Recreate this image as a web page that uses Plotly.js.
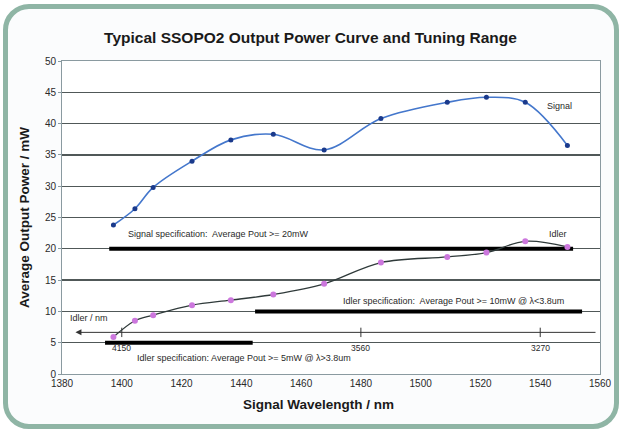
<!DOCTYPE html>
<html>
<head>
<meta charset="utf-8">
<script src="https://cdn.plot.ly/plotly-3.0.1.min.js"></script>
<style>
  html, body { margin: 0; padding: 0; background: #ffffff; }
  #frame { position: absolute; left: 3px; top: 4px; width: 606px; height: 415px;
           border: 5px solid #8fb5a5; border-radius: 26px; background: #fbfcfd; }
  #chart { position: absolute; left: 0; top: 0; width: 621px; height: 433px; }
</style>
</head>
<body>
<div id="frame"></div>
<div id="chart"></div>
<script>
// Wavelengths (signal, nm) where measurements were taken
const signalWavelength = [1397.2, 1404.4, 1410.5, 1423.5, 1436.5, 1450.7, 1467.7, 1486.7, 1508.9, 1522.0, 1535.0, 1549.1];
// Signal average output power (mW)
const signalPower = [23.8, 26.4, 29.8, 34.0, 37.4, 38.3, 35.8, 40.8, 43.4, 44.2, 43.4, 36.5];
// Idler average output power (mW)
const idlerPower = [5.9, 8.5, 9.4, 11.0, 11.8, 12.7, 14.4, 17.8, 18.7, 19.4, 21.2, 20.3];

// Specification bars: [xStart, xEnd] and level
const signalSpecX = [1395.8, 1551];
const signalSpecY = [20, 20];
const idlerSpec10X = [1444.6, 1554];
const idlerSpec10Y = [10, 10];
const idlerSpec5X = [1394.4, 1443.8];
const idlerSpec5Y = [5, 5];

// Secondary idler wavelength scale
const idlerAxisLevel = 6.65;
const idlerAxisRange = [1384.5, 1559];
const idlerTickPos = [1400, 1480, 1540];
const idlerTickLabels = ['4150', '3560', '3270'];

const xTicks = [1380, 1400, 1420, 1440, 1460, 1480, 1500, 1520, 1540, 1560];
const yTicks = [0, 5, 10, 15, 20, 25, 30, 35, 40, 45, 50];

const FONT = 'Arial, "Liberation Sans", sans-serif';
const TXT = '#2a2a2a';

const traces = [];

// spec bars
[[signalSpecX, signalSpecY], [idlerSpec10X, idlerSpec10Y], [idlerSpec5X, idlerSpec5Y]].forEach(([x, y]) => {
  traces.push({ x: x, y: y, mode: 'lines', line: { color: '#000000', width: 4 }, hoverinfo: 'skip', showlegend: false });
});

// idler axis ticks
idlerTickPos.forEach(p => {
  traces.push({ x: [p, p], y: [idlerAxisLevel - 0.75, idlerAxisLevel + 0.75], mode: 'lines',
    line: { color: '#333333', width: 1 }, hoverinfo: 'skip', showlegend: false });
});

// idler curve
traces.push({
  x: signalWavelength, y: idlerPower, mode: 'lines+markers',
  line: { color: '#2f3a3a', width: 1.3, shape: 'spline', smoothing: 1 },
  marker: { color: '#cc77dd', size: 6 },
  hoverinfo: 'skip', showlegend: false
});

// signal curve
traces.push({
  x: signalWavelength, y: signalPower, mode: 'lines+markers',
  line: { color: '#4477cc', width: 1.6, shape: 'spline', smoothing: 1 },
  marker: { color: '#1a3a8c', size: 5 },
  hoverinfo: 'skip', showlegend: false
});

const annFont = { family: FONT, size: 9, color: TXT };
const annotations = [
  { x: 1401.4, y: 22.4, text: 'Signal specification:  Average Pout >= 20mW', xanchor: 'left' },
  { x: 1546.6, y: 42.8, text: 'Signal', xanchor: 'center' },
  { x: 1546.0, y: 22.4, text: 'Idler', xanchor: 'center' },
  { x: 1473.5, y: 11.7, text: 'Idler specification:  Average Pout >= 10mW @ λ<3.8um', xanchor: 'left' },
  { x: 1382.0, y: 8.9, text: 'Idler / nm', xanchor: 'left' },
  { x: 1404.4, y: 2.5, text: 'Idler specification: Average Pout >= 5mW @ λ>3.8um', xanchor: 'left' }
].map(a => Object.assign({ xref: 'x', yref: 'y', showarrow: false, yanchor: 'middle', font: annFont }, a));

idlerTickPos.forEach((p, i) => {
  annotations.push({ x: p, y: 4.2, xref: 'x', yref: 'y', text: idlerTickLabels[i], showarrow: false,
    xanchor: 'center', yanchor: 'middle', font: { family: FONT, size: 8.5, color: TXT } });
});

// idler axis line with arrow
annotations.push({
  x: idlerAxisRange[0], y: idlerAxisLevel, ax: idlerAxisRange[1], ay: idlerAxisLevel,
  xref: 'x', yref: 'y', axref: 'x', ayref: 'y', text: '', showarrow: true,
  arrowhead: 2, arrowsize: 1.2, arrowwidth: 1, arrowcolor: '#333333'
});

// x-axis title (placed slightly left of plot centre, as in the original)
annotations.push({
  xref: 'paper', yref: 'paper', x: 0.476, y: -0.099, xanchor: 'center', yanchor: 'middle',
  text: 'Signal Wavelength / nm', showarrow: false,
  font: { family: FONT, size: 13.5, color: '#1a1a1a', weight: 'bold' }
});

const layout = {
  width: 621, height: 433,
  margin: { l: 62, r: 21, t: 61, b: 59 },
  paper_bgcolor: 'rgba(0,0,0,0)',
  plot_bgcolor: '#ffffff',
  title: { text: 'Typical SSOPO2 Output Power Curve and Tuning Range',
    font: { family: FONT, size: 15.5, color: '#1a1a1a', weight: 'bold' },
    x: 0.5, xanchor: 'center', y: 0.913, yanchor: 'middle' },
  xaxis: {
    range: [1380, 1560], tickvals: xTicks, ticktext: xTicks.map(String),
    showgrid: false, zeroline: false,
    showline: true, linecolor: '#8a9aa0', linewidth: 1, mirror: true,
    ticks: '', tickfont: { family: FONT, size: 10, color: TXT }
  },
  yaxis: {
    range: [0, 50], tickvals: yTicks, ticktext: yTicks.map(String),
    showgrid: true, gridcolor: '#505858', gridwidth: 1.3, zeroline: false,
    showline: true, linecolor: '#8a9aa0', linewidth: 1, mirror: true,
    ticks: 'outside', ticklen: 3, tickcolor: '#8a9aa0',
    tickfont: { family: FONT, size: 10, color: TXT },
    title: { text: 'Average Output Power / mW', font: { family: FONT, size: 13.5, color: '#1a1a1a', weight: 'bold' }, standoff: 12 }
  },
  annotations: annotations,
  showlegend: false,
  hovermode: false
};

Plotly.newPlot('chart', traces, layout, { displayModeBar: false, staticPlot: true });
</script>
</body>
</html>
